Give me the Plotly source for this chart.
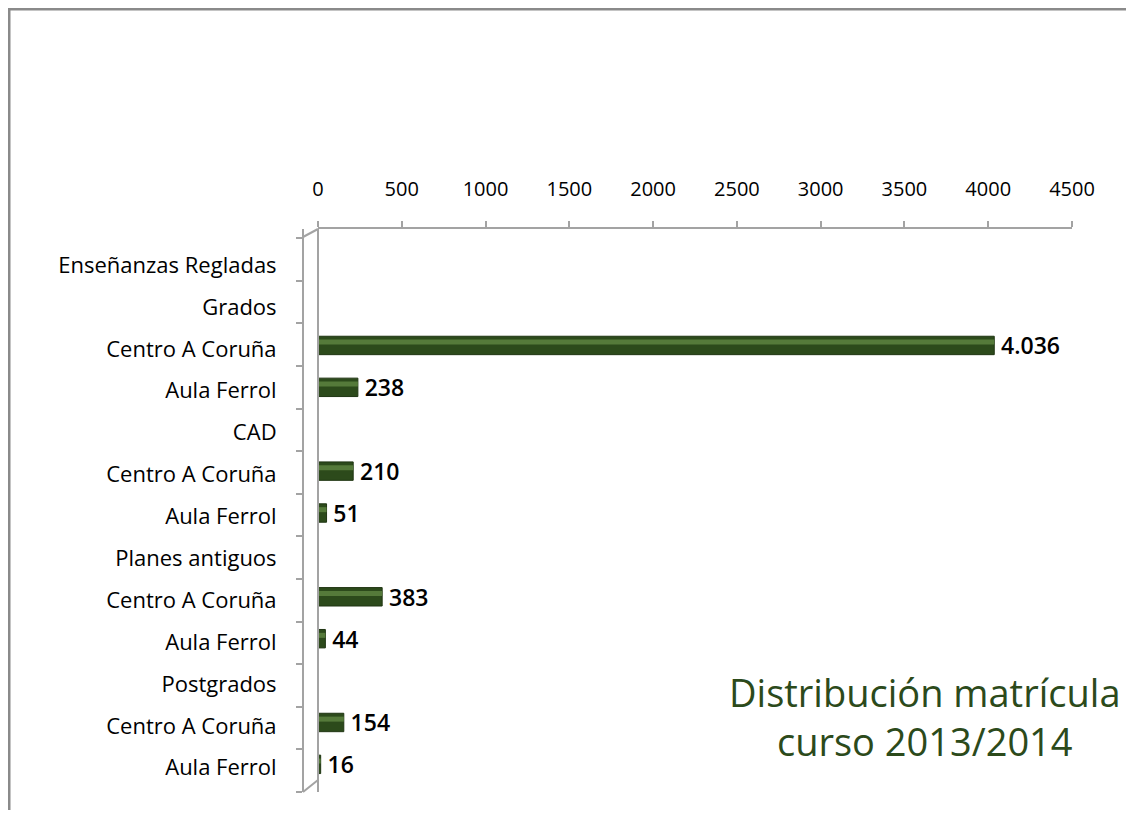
import plotly.graph_objects as go

categories = ["Enseñanzas Regladas", "Grados", "Centro A Coruña", "Aula Ferrol", "CAD",
              "Centro A Coruña", "Aula Ferrol", "Planes antiguos", "Centro A Coruña",
              "Aula Ferrol", "Postgrados", "Centro A Coruña", "Aula Ferrol"]
values = [None, None, 4036, 238, None, 210, 51, None, 383, 44, None, 154, 16]
tick_values = [0, 500, 1000, 1500, 2000, 2500, 3000, 3500, 4000, 4500]
title_lines = ["Distribución matrícula", "curso 2013/2014"]

pos = list(range(len(categories)))
labels = ["" if v is None else "\u2009" + f"{v:,}".replace(",", ".") for v in values]

OFF = 8  # default page body margin
W, H = 1118, 802
L, R, T, B = 290, 54, 221, 18
pw, ph = W - L - R, H - T - B

def px_x(p):
    return (p - OFF - L) / pw

def px_y(p):
    return (H - B - (p - OFF)) / ph

GREY = "#a3a3a3"
GREEN = "#2c4a1b"

fig = go.Figure()
fig.add_trace(go.Bar(
    y=pos, x=values, orientation="h", width=0.44, offset=-0.30,
    marker=dict(color=GREEN, line=dict(color="#1f3512", width=1)),
    text=labels, textposition="outside", cliponaxis=False, constraintext="none",
    textfont=dict(family="Open Sans", size=23, color="#000000", weight=600),
    hoverinfo="skip", showlegend=False,
))
fig.add_trace(go.Bar(
    y=pos, x=values, orientation="h", width=0.12, offset=-0.22,
    marker=dict(color="#557a3a", line=dict(width=0)),
    hoverinfo="skip", showlegend=False,
))
# invisible helper trace so the front (3D) axis is drawn
fig.add_trace(go.Scatter(x=[0], y=[0], yaxis="y2", mode="markers",
                         marker=dict(opacity=0), hoverinfo="skip", showlegend=False))

fig.update_layout(
    width=W, height=H, barmode="overlay",
    margin=dict(l=L, r=R, t=T, b=B),
    paper_bgcolor="white", plot_bgcolor="white",
    font=dict(family="Open Sans", color="#000000"),
    xaxis=dict(
        domain=[px_x(318), 1],
        range=[0, 4500], side="top", tickvals=tick_values,
        tickfont=dict(family="Open Sans", size=20, color="#000000"),
        showgrid=False, zeroline=False, showline=True, linecolor=GREY, linewidth=2,
        ticks="outside", ticklen=6, tickcolor=GREY, tickwidth=2,
        ticklabelstandoff=17,
    ),
    yaxis=dict(
        anchor="free", position=px_x(318),
        range=[12.58, -0.86], tickvals=pos, ticktext=categories,
        tickfont=dict(family="Open Sans", size=22, color="#000000"),
        showgrid=False, zeroline=False, showline=True, linecolor=GREY, linewidth=2,
        ticks="", ticklabelstandoff=36,
    ),
    yaxis2=dict(
        overlaying="y", anchor="free", position=px_x(303), side="left",
        range=[12.5, -0.716], tickvals=[i - 0.5 for i in range(14)],
        showticklabels=False, showgrid=False, zeroline=False,
        showline=True, linecolor=GREY, linewidth=2,
        ticks="outside", ticklen=6, tickcolor=GREY, tickwidth=2,
    ),
)

# 3D wall connectors
fig.add_shape(type="line", xref="paper", yref="paper", layer="above",
              x0=px_x(318), y0=px_y(229), x1=px_x(303), y1=px_y(237),
              line=dict(color=GREY, width=2))
fig.add_shape(type="line", xref="paper", yref="paper", layer="above",
              x0=px_x(318), y0=px_y(780), x1=px_x(303), y1=px_y(792),
              line=dict(color=GREY, width=2))
# outer frame (left and top edges)
fx0, fy_top, fy_bot, fx1 = px_x(9), px_y(9), px_y(830), px_x(1140)
fig.add_shape(type="path", xref="paper", yref="paper", layer="below",
              path=f"M {fx0} {fy_bot} L {fx0} {fy_top} L {fx1} {fy_top}",
              line=dict(color="#8a8a8a", width=3))

fig.add_annotation(
    xref="paper", yref="paper", x=px_x(925), y=px_y(716),
    xanchor="center", yanchor="middle",
    text="<br>".join(title_lines), showarrow=False, align="center",
    font=dict(family="Open Sans", size=38, color=GREEN),
)

fig.write_html("out.html")
